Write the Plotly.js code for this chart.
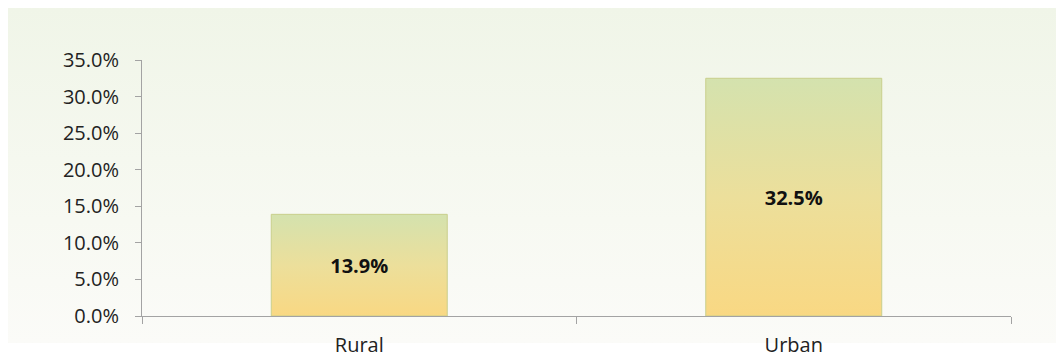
<!DOCTYPE html>
<html>
<head>
<meta charset="utf-8">
<script src="https://cdn.plot.ly/plotly-3.0.1.min.js"></script>
<style>
  html, body { margin: 0; padding: 0; background: #ffffff; }
  #wrap { position: relative; width: 1056px; height: 359px; overflow: hidden; }
  #panel {
    position: absolute; left: 8px; top: 8px; width: 1048px; height: 335px;
    background: linear-gradient(to bottom, #f0f5e8 0%, #f5f8ef 45%, #fbfbf8 100%);
  }
  #chart { position: absolute; left: 0; top: 0; width: 1056px; height: 359px; }
</style>
</head>
<body>
<div id="wrap">
  <div id="panel"></div>
  <div id="chart"></div>
</div>
<script>
// Share of respondents by area type
const categories = ["Rural", "Urban"];
const shares = [0.139, 0.325];

const trace = {
  type: "bar",
  x: categories,
  y: shares,
  width: 0.405,
  marker: {
    color: "#f3dc95",
    line: { color: "#c9cf8c", width: 1 }
  },
  texttemplate: "<b>%{y:.1%}</b>",
  textposition: "inside",
  insidetextanchor: "middle",
  textangle: 0,
  textfont: { family: "Open Sans, sans-serif", size: 20, color: "#111111" },
  hoverinfo: "none"
};

const axisFont = { family: "Open Sans, sans-serif", size: 20, color: "#222222" };

const layout = {
  width: 1056,
  height: 359,
  margin: { l: 142, r: 45, t: 60, b: 43, pad: 0 },
  paper_bgcolor: "rgba(0,0,0,0)",
  plot_bgcolor: "rgba(0,0,0,0)",
  showlegend: false,
  xaxis: {
    type: "category",
    tickson: "boundaries",
    ticks: "outside",
    ticklen: 7,
    tickcolor: "#a3a3a3",
    tickwidth: 1,
    showline: true,
    linecolor: "#a3a3a3",
    linewidth: 1,
    showgrid: false,
    zeroline: false,
    tickfont: axisFont,
    ticklabelstandoff: 11,
    range: [-0.5, 1.5]
  },
  yaxis: {
    range: [0, 0.35],
    dtick: 0.05,
    tick0: 0,
    tickformat: ".1%",
    ticks: "outside",
    ticklen: 6,
    tickcolor: "#a3a3a3",
    tickwidth: 1,
    showline: true,
    linecolor: "#a3a3a3",
    linewidth: 1,
    showgrid: false,
    zeroline: false,
    tickfont: axisFont,
    ticklabelstandoff: 12
  }
};

// Vertical green-to-amber fill for each bar
function applyBarGradient(gd) {
  const svg = gd.querySelector("svg.main-svg");
  if (!svg) return;
  let defs = svg.querySelector("defs");
  if (!defs) {
    defs = document.createElementNS("http://www.w3.org/2000/svg", "defs");
    svg.insertBefore(defs, svg.firstChild);
  }
  if (!svg.querySelector("#barGrad")) {
    const ns = "http://www.w3.org/2000/svg";
    const g = document.createElementNS(ns, "linearGradient");
    g.setAttribute("id", "barGrad");
    g.setAttribute("x1", "0"); g.setAttribute("y1", "0");
    g.setAttribute("x2", "0"); g.setAttribute("y2", "1");
    [["0%", "#d4e2ae"], ["50%", "#ecdf9b"], ["100%", "#f9d883"]].forEach(([o, c]) => {
      const s = document.createElementNS(ns, "stop");
      s.setAttribute("offset", o);
      s.setAttribute("stop-color", c);
      g.appendChild(s);
    });
    defs.appendChild(g);
  }
  gd.querySelectorAll(".bars .point path").forEach(p => {
    p.style.fill = "url(#barGrad)";
  });
}

const gd = document.getElementById("chart");
Plotly.newPlot(gd, [trace], layout, { staticPlot: true, displayModeBar: false }).then(() => {
  applyBarGradient(gd);
  gd.on && gd.on("plotly_afterplot", () => applyBarGradient(gd));
});
</script>
</body>
</html>
